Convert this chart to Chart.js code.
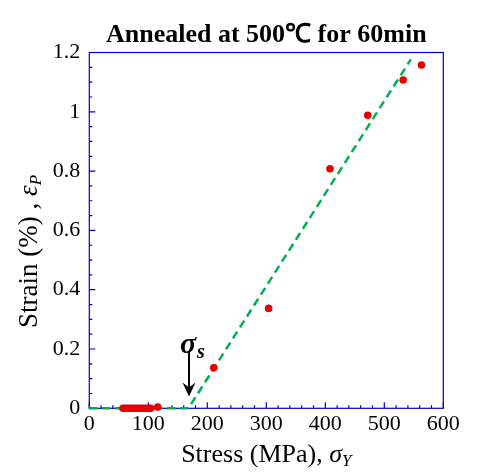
<!DOCTYPE html>
<html>
<head>
<meta charset="utf-8">
<script src="https://cdn.jsdelivr.net/npm/chart.js@4.4.1/dist/chart.umd.min.js"></script>
<style>
  html, body { margin: 0; padding: 0; background: #fff; }
  #wrap { width: 484px; height: 475px; }
</style>
</head>
<body>
<div id="wrap"><canvas id="strainChart" width="484" height="475"></canvas></div>
<script>
// Measured points (stress in MPa, strain in %)
const stressX = [57, 61, 65, 69, 73, 77, 81, 85, 89, 93, 97, 101, 104, 116, 211, 304, 408, 472, 532, 563];
const strainY = [0, 0, 0, 0, 0, 0, 0, 0, 0, 0, 0, 0, 0, 0.004, 0.137, 0.337, 0.808, 0.988, 1.107, 1.158];

// Dashed fit line
const fitX = [0, 168, 545];
const fitY = [0, 0, 1.177];

// Yield stress marker
const sigmaS = 169;
const arrowFrom = 0.19;
const arrowTo = 0.04;

const xTicks = [0, 100, 200, 300, 400, 500, 600];
const xTickLabels = ['0', '100', '200', '300', '400', '500', '600'];
const yTicks = [0, 0.2, 0.4, 0.6, 0.8, 1.0, 1.2];
const yTickLabels = ['0', '0.2', '0.4', '0.6', '0.8', '1', '1.2'];

const axisBlue = '#0000c8';
const serif = '"Liberation Serif", "Times New Roman", serif';

// frame + inward ticks (major and minor)
const framePlugin = {
    id: 'frame',
    beforeDatasetsDraw(chart) {
        const { ctx, chartArea: a, scales: { x, y } } = chart;
        ctx.save();
        ctx.strokeStyle = axisBlue;
        ctx.lineWidth = 1.2;
        ctx.strokeRect(a.left, a.top, a.right - a.left, a.bottom - a.top);
        ctx.beginPath();
        for (let v = 0; v <= 600; v += 20) {
            const px = x.getPixelForValue(v);
            const len = v % 100 === 0 ? 6 : 3;
            ctx.moveTo(px, a.bottom);
            ctx.lineTo(px, a.bottom - len);
        }
        for (let i = 0; i <= 24; i++) {
            const py = y.getPixelForValue(i * 0.05);
            const len = i % 4 === 0 ? 6 : 3;
            ctx.moveTo(a.left, py);
            ctx.lineTo(a.left + len, py);
        }
        ctx.stroke();
        ctx.restore();
    },
    afterDatasetsDraw(chart) {
        const { ctx, chartArea: a, scales: { x, y } } = chart;
        ctx.save();
        // arrow
        const ax = x.getPixelForValue(sigmaS);
        const y0 = y.getPixelForValue(arrowFrom);
        const y1 = y.getPixelForValue(arrowTo);
        ctx.strokeStyle = '#000';
        ctx.fillStyle = '#000';
        ctx.lineWidth = 2;
        ctx.beginPath();
        ctx.moveTo(ax, y0);
        ctx.lineTo(ax, y1 - 6);
        ctx.stroke();
        ctx.beginPath();
        ctx.moveTo(ax, y1);
        ctx.lineTo(ax - 6.5, y1 - 14);
        ctx.lineTo(ax, y1 - 9);
        ctx.lineTo(ax + 6.5, y1 - 14);
        ctx.closePath();
        ctx.fill();

        // sigma_s label
        ctx.textBaseline = 'alphabetic';
        ctx.textAlign = 'left';
        ctx.font = 'italic bold 30px ' + serif;
        ctx.fillText('σ', ax - 9, y0 + 1);
        ctx.font = 'italic bold 20px ' + serif;
        ctx.fillText('s', ax + 8, y0 + 6);

        // x axis title
        const cx = (a.left + a.right) / 2;
        ctx.fillStyle = '#000';
        ctx.font = '26px ' + serif;
        const p1 = 'Stress (MPa), ';
        const w1 = ctx.measureText(p1).width;
        ctx.font = 'italic 26px ' + serif;
        const w2 = ctx.measureText('σ').width;
        ctx.font = 'italic 17px ' + serif;
        const w3 = ctx.measureText('Y').width;
        let sx = cx - (w1 + w2 + w3) / 2;
        const by = 462;
        ctx.font = '26px ' + serif;
        ctx.fillText(p1, sx, by);
        ctx.font = 'italic 26px ' + serif;
        ctx.fillText('σ', sx + w1, by);
        ctx.font = 'italic 17px ' + serif;
        ctx.fillText('Y', sx + w1 + w2, by + 4);

        // y axis title (rotated)
        ctx.translate(37, (a.top + a.bottom) / 2 + 21);
        ctx.rotate(-Math.PI / 2);
        ctx.font = '27px ' + serif;
        const q1 = 'Strain (%) , ';
        const v1 = ctx.measureText(q1).width;
        ctx.font = 'italic 27px ' + serif;
        const v2 = ctx.measureText('ε').width;
        ctx.font = 'italic 17px ' + serif;
        const v3 = ctx.measureText('P').width;
        sx = -(v1 + v2 + v3) / 2;
        ctx.font = '27px ' + serif;
        ctx.fillText(q1, sx, 0);
        ctx.font = 'italic 27px ' + serif;
        ctx.fillText('ε', sx + v1, 0);
        ctx.font = 'italic 17px ' + serif;
        ctx.fillText('P', sx + v1 + v2, 4);
        ctx.restore();
    }
};

const ctx = document.getElementById('strainChart').getContext('2d');
new Chart(ctx, {
    type: 'scatter',
    data: {
        datasets: [
            {
                label: 'Fit',
                type: 'line',
                data: fitX.map((v, i) => ({ x: v, y: fitY[i] })),
                borderColor: '#00b050',
                borderWidth: 2.5,
                borderDash: [8, 5],
                pointRadius: 0,
                fill: false,
                clip: false,
                order: 2
            },
            {
                label: 'Measured',
                data: stressX.map((v, i) => ({ x: v, y: strainY[i] })),
                backgroundColor: '#e60000',
                borderColor: '#e60000',
                borderWidth: 0,
                pointRadius: 3.8,
                clip: false,
                order: 1
            }
        ]
    },
    options: {
        responsive: false,
        animation: false,
        layout: {
            padding: { left: 0, right: 40.7, top: 0, bottom: 0 }
        },
        scales: {
            x: {
                type: 'linear',
                min: 0,
                max: 600,
                afterBuildTicks: (axis) => { axis.ticks = xTicks.map(v => ({ value: v })); },
                afterFit: (s) => { s.height = 66.7; },
                grid: { display: false, drawTicks: false },
                border: { display: false },
                ticks: {
                    padding: 3,
                    color: '#000',
                    font: { family: serif, size: 22 },
                    maxRotation: 0,
                    callback: (v, i) => xTickLabels[i]
                }
            },
            y: {
                type: 'linear',
                min: 0,
                max: 1.2,
                afterBuildTicks: (axis) => { axis.ticks = yTicks.map(v => ({ value: v })); },
                afterFit: (s) => { s.width = 89.3; },
                grid: { display: false, drawTicks: false },
                border: { display: false },
                ticks: {
                    padding: 9,
                    color: '#000',
                    font: { family: serif, size: 22 },
                    callback: (v, i) => yTickLabels[i]
                }
            }
        },
        plugins: {
            legend: { display: false },
            tooltip: { enabled: false },
            title: {
                display: true,
                text: 'Annealed at 500℃ for 60min',
                fullSize: false,
                color: '#000',
                font: { family: serif, size: 26, weight: 'bold' },
                padding: { top: 19.4, bottom: 1.9 }
            }
        }
    },
    plugins: [framePlugin]
});
</script>
</body>
</html>
